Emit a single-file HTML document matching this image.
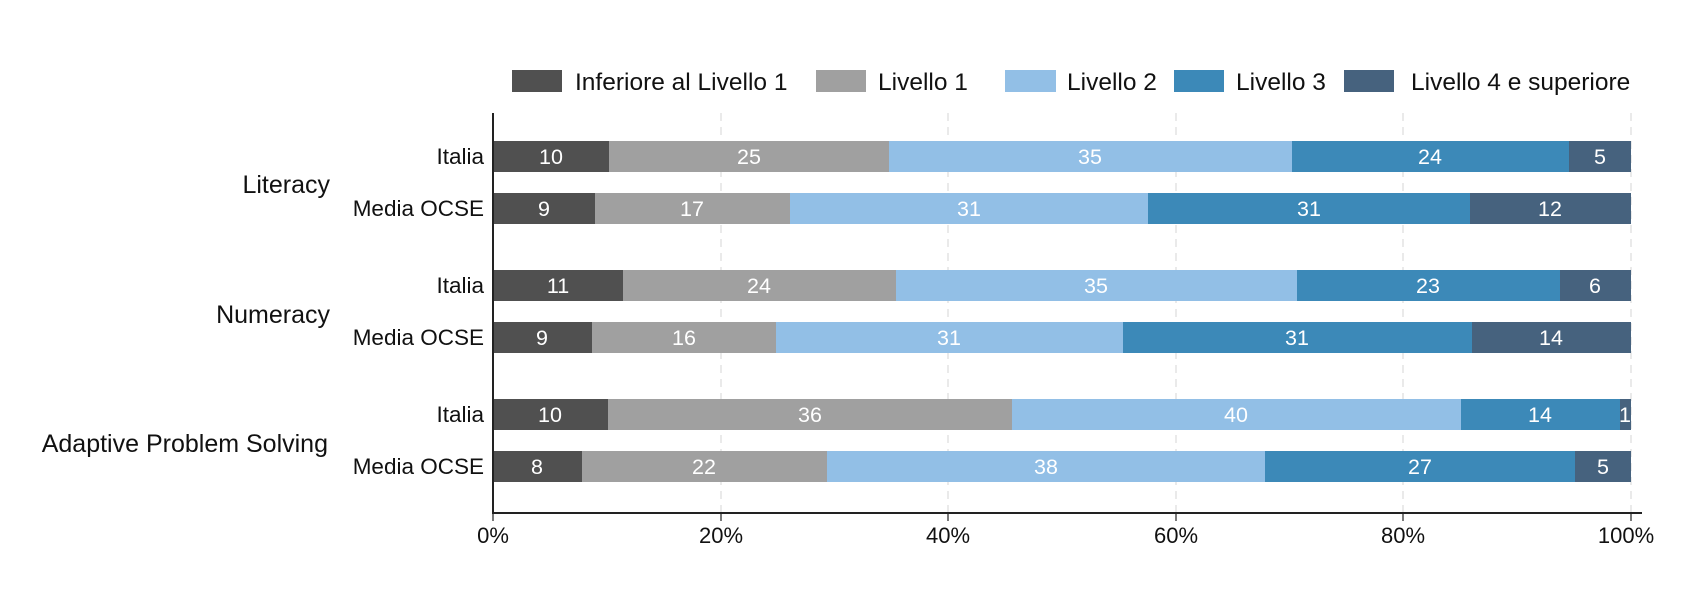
<!DOCTYPE html>
<html><head><meta charset="utf-8"><style>
html,body{margin:0;padding:0;background:#fff;}
svg{display:block;font-family:"Liberation Sans",Arial,sans-serif;}
</style></head><body>
<svg width="1682" height="592" viewBox="0 0 1682 592" xmlns="http://www.w3.org/2000/svg">
<g stroke="#e4e4e4" stroke-width="1.5" stroke-dasharray="8,6">
<line x1="721" y1="113" x2="721" y2="513"/>
<line x1="948" y1="113" x2="948" y2="513"/>
<line x1="1176" y1="113" x2="1176" y2="513"/>
<line x1="1403" y1="113" x2="1403" y2="513"/>
<line x1="1631" y1="113" x2="1631" y2="513"/>
</g>
<g id="bars" font-size="21.5" fill="#fff" text-anchor="middle">
<rect x="493" y="141" width="116" height="31" fill="#505050"/><rect x="609" y="141" width="280" height="31" fill="#a0a0a0"/><rect x="889" y="141" width="403" height="31" fill="#92bfe6"/><rect x="1292" y="141" width="277" height="31" fill="#3c89b8"/><rect x="1569" y="141" width="62" height="31" fill="#46627e"/>
<text x="551" y="164">10</text><text x="749" y="164">25</text><text x="1090" y="164">35</text><text x="1430" y="164">24</text><text x="1600" y="164">5</text>
<rect x="493" y="193" width="102" height="31" fill="#505050"/><rect x="595" y="193" width="195" height="31" fill="#a0a0a0"/><rect x="790" y="193" width="358" height="31" fill="#92bfe6"/><rect x="1148" y="193" width="322" height="31" fill="#3c89b8"/><rect x="1470" y="193" width="161" height="31" fill="#46627e"/>
<text x="544" y="216">9</text><text x="692" y="216">17</text><text x="969" y="216">31</text><text x="1309" y="216">31</text><text x="1550" y="216">12</text>
<rect x="493" y="270" width="130" height="31" fill="#505050"/><rect x="623" y="270" width="273" height="31" fill="#a0a0a0"/><rect x="896" y="270" width="401" height="31" fill="#92bfe6"/><rect x="1297" y="270" width="263" height="31" fill="#3c89b8"/><rect x="1560" y="270" width="71" height="31" fill="#46627e"/>
<text x="558" y="293">11</text><text x="759" y="293">24</text><text x="1096" y="293">35</text><text x="1428" y="293">23</text><text x="1595" y="293">6</text>
<rect x="493" y="322" width="99" height="31" fill="#505050"/><rect x="592" y="322" width="184" height="31" fill="#a0a0a0"/><rect x="776" y="322" width="347" height="31" fill="#92bfe6"/><rect x="1123" y="322" width="349" height="31" fill="#3c89b8"/><rect x="1472" y="322" width="159" height="31" fill="#46627e"/>
<text x="542" y="345">9</text><text x="684" y="345">16</text><text x="949" y="345">31</text><text x="1297" y="345">31</text><text x="1551" y="345">14</text>
<rect x="493" y="399" width="115" height="31" fill="#505050"/><rect x="608" y="399" width="404" height="31" fill="#a0a0a0"/><rect x="1012" y="399" width="449" height="31" fill="#92bfe6"/><rect x="1461" y="399" width="159" height="31" fill="#3c89b8"/><rect x="1620" y="399" width="11" height="31" fill="#46627e"/>
<text x="550" y="422">10</text><text x="810" y="422">36</text><text x="1236" y="422">40</text><text x="1540" y="422">14</text><text x="1625" y="422">1</text>
<rect x="493" y="451" width="89" height="31" fill="#505050"/><rect x="582" y="451" width="245" height="31" fill="#a0a0a0"/><rect x="827" y="451" width="438" height="31" fill="#92bfe6"/><rect x="1265" y="451" width="310" height="31" fill="#3c89b8"/><rect x="1575" y="451" width="56" height="31" fill="#46627e"/>
<text x="537" y="474">8</text><text x="704" y="474">22</text><text x="1046" y="474">38</text><text x="1420" y="474">27</text><text x="1603" y="474">5</text>
</g>
<g stroke="#222" stroke-width="2">
<line x1="493" y1="113" x2="493" y2="513"/>
<line x1="492" y1="513" x2="1642" y2="513"/>
</g>
<g stroke="#222" stroke-width="1.2">
<line x1="493" y1="513" x2="493" y2="521"/><line x1="721" y1="513" x2="721" y2="521"/><line x1="948" y1="513" x2="948" y2="521"/><line x1="1176" y1="513" x2="1176" y2="521"/><line x1="1403" y1="513" x2="1403" y2="521"/><line x1="1631" y1="513" x2="1631" y2="521"/>
</g>
<g font-size="22" fill="#111" text-anchor="middle">
<text x="493" y="543">0%</text><text x="721" y="543">20%</text><text x="948" y="543">40%</text><text x="1176" y="543">60%</text><text x="1403" y="543">80%</text><text x="1626" y="543">100%</text>
</g>
<g font-size="22.5" fill="#111" text-anchor="end">
<text x="484" y="164">Italia</text><text x="484" y="216">Media OCSE</text>
<text x="484" y="293">Italia</text><text x="484" y="345">Media OCSE</text>
<text x="484" y="422">Italia</text><text x="484" y="474">Media OCSE</text>
</g>
<g font-size="25" fill="#111" text-anchor="end">
<text x="330" y="193">Literacy</text>
<text x="330" y="323">Numeracy</text>
<text x="328" y="452">Adaptive Problem Solving</text>
</g>
<g font-size="24.5" fill="#111">
<rect x="512" y="70" width="50" height="22" fill="#505050"/><text x="575" y="90">Inferiore al Livello 1</text>
<rect x="816" y="70" width="50" height="22" fill="#a0a0a0"/><text x="878" y="90">Livello 1</text>
<rect x="1005" y="70" width="51" height="22" fill="#92bfe6"/><text x="1067" y="90">Livello 2</text>
<rect x="1174" y="70" width="50" height="22" fill="#3c89b8"/><text x="1236" y="90">Livello 3</text>
<rect x="1344" y="70" width="50" height="22" fill="#46627e"/><text x="1411" y="90">Livello 4 e superiore</text>
</g>
</svg>
</body></html>
